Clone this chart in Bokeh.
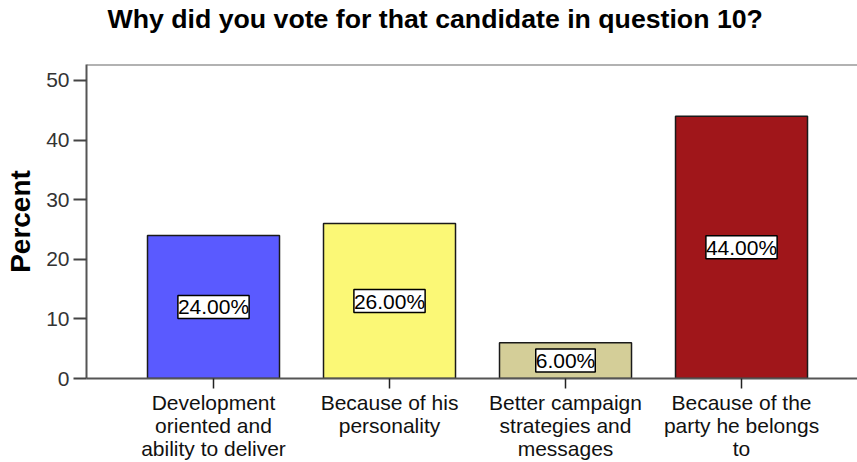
from bokeh.plotting import figure
from bokeh.models import ColumnDataSource, LabelSet, FixedTicker, Range1d, Span, Title
from bokeh.core.properties import value
from bokeh.embed import file_html
from bokeh.resources import INLINE

# ---- data ----
categories = [
    "Development\noriented and\nability to deliver",
    "Because of his\npersonality",
    "Better campaign\nstrategies and\nmessages",
    "Because of the\nparty he belongs\nto",
]
percents = [24.0, 26.0, 6.0, 44.0]
colors = ["#5a5aff", "#fbf876", "#d4ce98", "#a0161a"]
y_ticks = [0, 10, 20, 30, 40, 50]
title_text = "Why did you vote for that candidate in question 10?"
y_label = "Percent"

FONT = "Liberation Sans"

xs = list(range(len(categories)))
src = ColumnDataSource(dict(
    x=xs,
    top=percents,
    mid=[v / 2 for v in percents],
    color=colors,
    label=[f"{v:.2f}%" for v in percents],
))

p = figure(
    width=857, height=462,
    output_backend="svg", toolbar_location=None,
    x_range=Range1d(-0.7216, 3.659),
    y_range=Range1d(0, 52.68),
    min_border_left=86, min_border_right=0,
    min_border_top=63, min_border_bottom=84,
)
p.title = Title(text="")
p.outline_line_color = None
p.background_fill_color = "white"
p.border_fill_color = "white"
p.xgrid.visible = False
p.ygrid.visible = False

p.vbar(x="x", top="top", bottom=0, width=0.75, fill_color="color",
       line_color="#1a1a1a", line_width=1.5, source=src)

labels = LabelSet(x="x", y="mid", text="label", source=src,
                  text_align="center", text_baseline="middle",
                  text_font=value(FONT), text_font_size="21px", text_color="black",
                  background_fill_color="white", border_line_color="black",
                  border_line_width=1.5)
p.add_layout(labels)

# top frame line
p.add_layout(Span(location=p.y_range.end, dimension="width",
                  line_color="#666666", line_width=2))

# title: a blank second line lifts the text away from the frame
title = Title(text=title_text + "\n ", text_font=FONT, text_font_size="26.7px",
              text_font_style="bold", text_color="black", text_line_height=1.0,
              align="left", offset=21, standoff=2)
p.add_layout(title, "above")

# y axis
yax = p.yaxis[0]
yax.ticker = FixedTicker(ticks=y_ticks)
yax.minor_tick_line_color = None
yax.major_tick_in = 0
yax.major_tick_out = 13
yax.major_tick_line_color = "#444444"
yax.major_tick_line_width = 2
yax.axis_line_color = "#555555"
yax.axis_line_width = 2
yax.major_label_text_font = FONT
yax.major_label_text_font_size = "21px"
yax.major_label_text_color = "#333333"
yax.major_label_standoff = 4
yax.axis_label = y_label
yax.axis_label_text_font = FONT
yax.axis_label_text_font_size = "28px"
yax.axis_label_text_font_style = "bold"
yax.axis_label_text_color = "black"
yax.axis_label_standoff = 7

# x axis
xax = p.xaxis[0]
xax.ticker = FixedTicker(ticks=xs)
xax.major_label_overrides = {i: c for i, c in zip(xs, categories)}
xax.minor_tick_line_color = None
xax.major_tick_in = 0
xax.major_tick_out = 10
xax.major_tick_line_color = "#222222"
xax.major_tick_line_width = 1.5
xax.axis_line_color = "#555555"
xax.axis_line_width = 2
xax.major_label_text_font = FONT
xax.major_label_text_font_size = "21px"
xax.major_label_text_color = "#111111"
xax.major_label_text_line_height = 1.0
xax.major_label_standoff = 2

open("out.html", "w").write(file_html(p, INLINE))
